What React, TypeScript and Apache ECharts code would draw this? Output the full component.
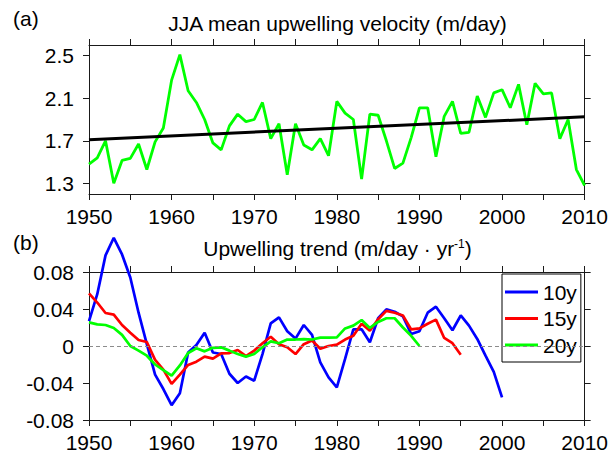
import React, { useEffect, useRef } from 'react';
import * as echarts from 'echarts';

// x categories (years)
const years: number[] = Array.from({ length: 61 }, (_, i) => 1950 + i);

// (a) JJA mean upwelling velocity (m/day), 1950-2010
const upwelling: number[] = [
  1.48, 1.54, 1.70, 1.30, 1.515, 1.535, 1.67, 1.43, 1.69, 1.82,
  2.27, 2.51, 2.17, 2.06, 1.90, 1.68, 1.615, 1.84, 1.95, 1.88,
  1.90, 2.06, 1.72, 1.86, 1.38, 1.86, 1.66, 1.615, 1.72, 1.56,
  2.07, 1.96, 1.90, 1.34, 1.95, 1.94, 1.70, 1.44, 1.49, 1.73,
  2.01, 2.01, 1.55, 1.93, 2.07, 1.77, 1.78, 2.12, 1.92, 2.15,
  2.18, 2.01, 2.23, 1.85, 2.24, 2.14, 2.15, 1.72, 1.90, 1.43,
  1.28,
];

// linear trend end points
const trendYears: number[] = [1950, 2010];
const trendValues: number[] = [1.71, 1.925];

// (b) running trends (m/day per yr), starting 1950
const trend10: number[] = [
  0.027, 0.056, 0.098, 0.117, 0.099, 0.074, 0.036, 0.002, -0.031, -0.0465,
  -0.064, -0.051, -0.007, 0.001, 0.0144, -0.007, -0.0087, -0.030, -0.040, -0.033,
  -0.0375, -0.0087, 0.0245, 0.031, 0.016, 0.008, 0.0227, 0.012, -0.0177, -0.034,
  -0.0447, -0.014, 0.018, 0.018, 0.004, 0.030, 0.0396, 0.037, 0.032, 0.013,
  0.016, 0.036, 0.0425, 0.030, 0.017, 0.033, 0.022, 0.0076, -0.0105, -0.028,
  -0.0555,
];
const trend15: number[] = [
  0.057, 0.047, 0.0357, 0.034, 0.0227, 0.0144, 0.0065, 0.0043, -0.015, -0.0256,
  -0.041, -0.031, -0.0205, -0.017, -0.0115, -0.0137, -0.008, -0.0076, -0.0043, -0.011,
  -0.005, 0.003, 0.010, 0.002, -0.0014, -0.0087, 0.002, 0.006, -0.003, 0.0,
  0.0014, 0.007, 0.011, 0.024, 0.0166, 0.029, 0.038, 0.036, 0.033, 0.018,
  0.019, 0.024, 0.0285, 0.0087, 0.003, -0.0094,
];
const trend20: number[] = [
  0.0256, 0.0234, 0.0227, 0.0195, 0.012, 0.0, -0.005, -0.0105, -0.020, -0.026,
  -0.032, -0.021, -0.0076, -0.0025, -0.0058, -0.002, -0.0014, -0.005, -0.0087, -0.0115,
  -0.0087, -0.0014, 0.005, 0.003, 0.007, 0.007, 0.0075, 0.007, 0.009, 0.009,
  0.0094, 0.019, 0.022, 0.028, 0.0195, 0.026, 0.030, 0.030, 0.020, 0.011,
  0.0,
];

const seriesNames: string[] = ['10y', '15y', '20y'];
const topYTicks: number[] = [1.3, 1.7, 2.1, 2.5];

const FONT = "'Liberation Sans', Arial, Helvetica, sans-serif";
const AX = '#1a1a1a';

export default function App() {
  const ref = useRef<HTMLDivElement>(null);

  useEffect(() => {
    const chart = echarts.init(ref.current as HTMLDivElement, null, { renderer: 'svg' });
    const pairs = (vals: number[]) => vals.map((v, i) => [years[i], v]);

    const xAxis = (gridIndex: number, position: string, showLabel: boolean) => ({
      type: 'value',
      gridIndex,
      position,
      min: 1950,
      max: 2010,
      interval: 5,
      axisLine: { show: true, onZero: false, lineStyle: { color: AX, width: 1 } },
      axisTick: { show: true, inside: false, length: 6, lineStyle: { color: AX, width: 1 } },
      axisLabel: {
        show: showLabel,
        margin: 12,
        fontSize: 21,
        fontFamily: FONT,
        color: '#000',
        formatter: (v: number) => (v % 10 === 0 ? String(v) : ''),
      },
      splitLine: { show: false },
    });

    const yTop = (position: string, showLabel: boolean) => ({
      type: 'value',
      gridIndex: 0,
      position,
      min: 1.2,
      max: 2.6,
      axisLine: { show: true, onZero: false, lineStyle: { color: AX, width: 1 } },
      axisTick: { show: true, length: 6, customValues: topYTicks, lineStyle: { color: AX, width: 1 } },
      axisLabel: {
        show: showLabel,
        customValues: topYTicks,
        margin: 15,
        fontSize: 21,
        fontFamily: FONT,
        color: '#000',
        formatter: (v: number) => v.toFixed(1),
      },
      splitLine: { show: false },
    });

    const yBottom = (position: string, showLabel: boolean) => ({
      type: 'value',
      gridIndex: 1,
      position,
      min: -0.08,
      max: 0.08,
      interval: 0.04,
      axisLine: { show: true, onZero: false, lineStyle: { color: AX, width: 1 } },
      axisTick: { show: true, length: 6, lineStyle: { color: AX, width: 1 } },
      axisLabel: {
        show: showLabel,
        margin: 15,
        fontSize: 21,
        fontFamily: FONT,
        color: '#000',
        formatter: (v: number) => (Math.abs(v) < 1e-9 ? '0' : String(Math.round(v * 100) / 100)),
      },
      splitLine: { show: false },
    });

    chart.setOption({
      animation: false,
      backgroundColor: '#fff',
      grid: [
        { left: 89, right: 25, top: 45, height: 149 },
        { left: 89, right: 25, top: 272, height: 148 },
      ],
      xAxis: [
        xAxis(0, 'bottom', true),
        xAxis(0, 'top', false),
        xAxis(1, 'bottom', true),
        xAxis(1, 'top', false),
      ],
      yAxis: [
        yTop('left', true),
        yTop('right', false),
        yBottom('left', true),
        yBottom('right', false),
      ],
      legend: {
        data: seriesNames,
        orient: 'vertical',
        left: 502,
        top: 274,
        icon: 'rect',
        itemWidth: 33,
        itemHeight: 3,
        itemGap: 5.5,
        padding: [7.5, 4, 6.5, 3],
        borderColor: '#000',
        borderWidth: 1,
        backgroundColor: '#fff',
        selectedMode: false,
        textStyle: { fontSize: 21, fontFamily: FONT, color: '#000' },
      },
      graphic: [
        {
          type: 'text',
          x: 13,
          y: 8,
          style: { text: '(a)', fontSize: 21, fontFamily: FONT, fill: '#000', align: 'left', verticalAlign: 'top' },
        },
        {
          type: 'text',
          x: 337.5,
          y: 13,
          style: {
            text: 'JJA mean upwelling velocity (m/day)',
            fontSize: 21,
            fontFamily: FONT,
            fill: '#000',
            align: 'center',
            verticalAlign: 'top',
          },
        },
        {
          type: 'text',
          x: 13,
          y: 232,
          style: { text: '(b)', fontSize: 21, fontFamily: FONT, fill: '#000', align: 'left', verticalAlign: 'top' },
        },
        {
          type: 'text',
          x: 337.5,
          y: 238,
          style: {
            text: '{m|Upwelling trend (m/day · yr}{s|-1}{m|)}',
            fontSize: 21,
            fontFamily: FONT,
            fill: '#000',
            align: 'center',
            verticalAlign: 'top',
            rich: {
              m: { fontSize: 21, fontFamily: FONT, fill: '#000' },
              s: { fontSize: 12, fontFamily: FONT, fill: '#000', verticalAlign: 'top' },
            },
          },
        },
      ],
      series: [
        {
          type: 'line',
          xAxisIndex: 0,
          yAxisIndex: 0,
          data: pairs(upwelling),
          symbol: 'none',
          lineStyle: { color: '#00ff00', width: 2.8 },
          itemStyle: { color: '#00ff00' },
        },
        {
          type: 'line',
          xAxisIndex: 0,
          yAxisIndex: 0,
          data: trendYears.map((y, i) => [y, trendValues[i]]),
          symbol: 'none',
          lineStyle: { color: '#000', width: 3 },
          itemStyle: { color: '#000' },
        },
        {
          name: seriesNames[0],
          type: 'line',
          xAxisIndex: 2,
          yAxisIndex: 2,
          data: pairs(trend10),
          symbol: 'none',
          clip: false,
          lineStyle: { color: '#0000ff', width: 2.7 },
          itemStyle: { color: '#0000ff' },
          markLine: {
            silent: true,
            symbol: 'none',
            label: { show: false },
            lineStyle: { color: '#8c8c8c', type: [4, 3], width: 1 },
            data: [{ yAxis: 0 }],
          },
        },
        {
          name: seriesNames[1],
          type: 'line',
          xAxisIndex: 2,
          yAxisIndex: 2,
          data: pairs(trend15),
          symbol: 'none',
          lineStyle: { color: '#ff0000', width: 2.7 },
          itemStyle: { color: '#ff0000' },
        },
        {
          name: seriesNames[2],
          type: 'line',
          xAxisIndex: 2,
          yAxisIndex: 2,
          data: pairs(trend20),
          symbol: 'none',
          lineStyle: { color: '#00ff00', width: 2.7 },
          itemStyle: { color: '#00ff00' },
        },
      ],
    });

    return () => chart.dispose();
  }, []);

  return (
    <div
      ref={ref}
      style={{ position: 'absolute', left: 0, top: 0, width: 611, height: 459, background: '#fff' }}
    />
  );
}
